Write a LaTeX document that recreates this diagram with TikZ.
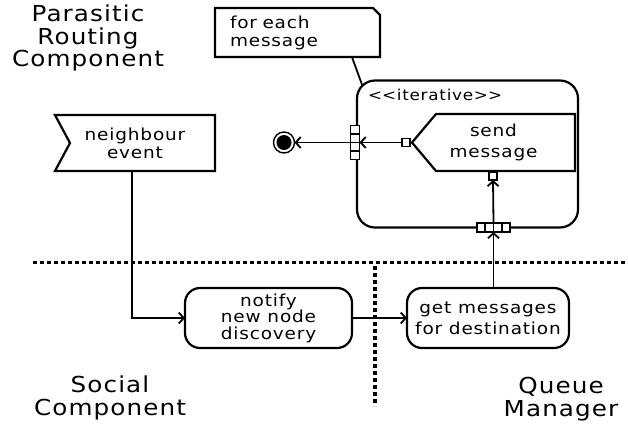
\documentclass[tikz,border=0pt]{standalone}
\usepackage{fontspec}
\setmainfont{DejaVu Sans}[FakeStretch=1.12,LetterSpace=5]
\usetikzlibrary{arrows.meta,calc}

\begin{document}
\begin{tikzpicture}[x=1pt,y=-1pt,
  every node/.style={inner sep=0pt, outer sep=0pt},
  edgeline/.style={line width=2.2pt, line join=miter},
  wire/.style={line width=1.8pt},
  flow/.style={line width=1.8pt, -{Straight Barb[length=5pt,width=11pt,line width=1.8pt]}},
  lanesep/.style={line width=3.8pt, dash pattern=on 3.8pt off 3.2pt},
  lanetitle/.style={align=center, font=\fontsize{22}{22.5}\selectfont},
  txt/.style={align=center, font=\fontsize{16.5}{#1}\selectfont},
  actbox/.style={draw, line width=2.2pt, rounded corners=15pt, minimum width=167pt, minimum height=60pt},
  pinbox/.style={draw, line width=1.6pt, fill=white, minimum size=8pt},
  expbox/.style={draw, line width=1.6pt, fill=white},
]
\useasboundingbox (0,0) rectangle (628,424);

% swimlane separators
\coordinate (laneL) at (33,262.5);
\coordinate (laneR) at (628,262.5);
\coordinate (laneT) at (375,266);
\coordinate (laneB) at (375,406);
\draw[lanesep] (laneL) -- (laneR);
\draw[lanesep] (laneT) -- (laneB);

% lane titles
\node[lanetitle] (parasitic) at (88,38) {Parasitic\\Routing\\Component};
\node[lanetitle] (social) at (110,398) {Social\\Component};
\node[lanetitle] (queue) at (561,399) {Queue\\Manager};

% comment note with folded corner
\node[font=\fontsize{16.5}{18}\selectfont, text width=135pt, align=left,
      inner xsep=15pt, minimum height=49pt, anchor=north west] (note) at (215,8) {for each\\message};
\draw[edgeline] (note.north west) -- ([xshift=-7pt]note.north east)
  -- ([yshift=-7pt]note.north east) -- (note.south east) -- (note.south west) -- cycle;

% iterative expansion region
\node[draw, line width=2.2pt, rounded corners=18pt, minimum width=221pt, minimum height=147pt] (region) at (467.5,154) {};
\node[font=\fontsize{15}{15}\selectfont, anchor=base west] (stereo) at (368,100) {<\kern0pt<iterative>\kern0pt>};
\coordinate (regioncorner) at ([xshift=5.5pt,yshift=-5.5pt]region.north west);
\draw[wire] ($(note.south west)!0.83!(note.south east)$) -- (regioncorner);

% send signal action
\node[txt=21.5, minimum width=163pt, minimum height=57pt] (send) at (493.5,142.5) {send\\message};
\draw[edgeline] (send.west) -- ([xshift=24pt]send.north west) -- (send.north east)
  -- (send.south east) -- ([xshift=24pt]send.south west) -- cycle;
\node[pinbox] (sendout) at (406,142.5) {};
\node[pinbox] (sendin) at (493,176) {};

% expansion nodes
\node[expbox, minimum width=9pt, minimum height=34pt] (expL) at (355,142.5) {};
\node[expbox, minimum width=33pt, minimum height=9pt] (expB) at (493.5,227.5) {};
\foreach \f in {0.25,0.5,0.75}{
  \draw[line width=1.6pt] ($(expL.north west)!\f!(expL.south west)$) -- ($(expL.north east)!\f!(expL.south east)$);
  \draw[line width=1.6pt] ($(expB.north west)!\f!(expB.north east)$) -- ($(expB.south west)!\f!(expB.south east)$);
}

% activity final
\node[circle, draw, line width=1.4pt, minimum size=21pt] (final) at (284,142.5) {};
\fill (final.center) circle (7.5pt);

% accept event
\node[txt=18, minimum width=160pt, minimum height=56pt] (event) at (135,143) {neighbour\\event};
\draw[edgeline] (event.north west) -- (event.north east) -- (event.south east)
  -- (event.south west) -- ([xshift=15pt]event.west) -- cycle;

% actions
\node[actbox, txt=16.5] (notify) at (268.5,318) {notify\\new node\\discovery};
\node[actbox, txt=21, minimum width=162pt] (getmsg) at (488,318) {get messages\\for destination};

% flows
\draw[flow] ([xshift=-3pt]event.south) |- (notify.west);
\draw[flow] (notify.east) -- (getmsg.west);
\draw[flow] (expB.south |- getmsg.north) -- (expB.south);
\draw[flow] (expB.north) -- (sendin.south);
\draw[flow] (sendout.west) -- (expL.east);
\draw[flow] (expL.west) -- (final.east);
\end{tikzpicture}
\end{document}
